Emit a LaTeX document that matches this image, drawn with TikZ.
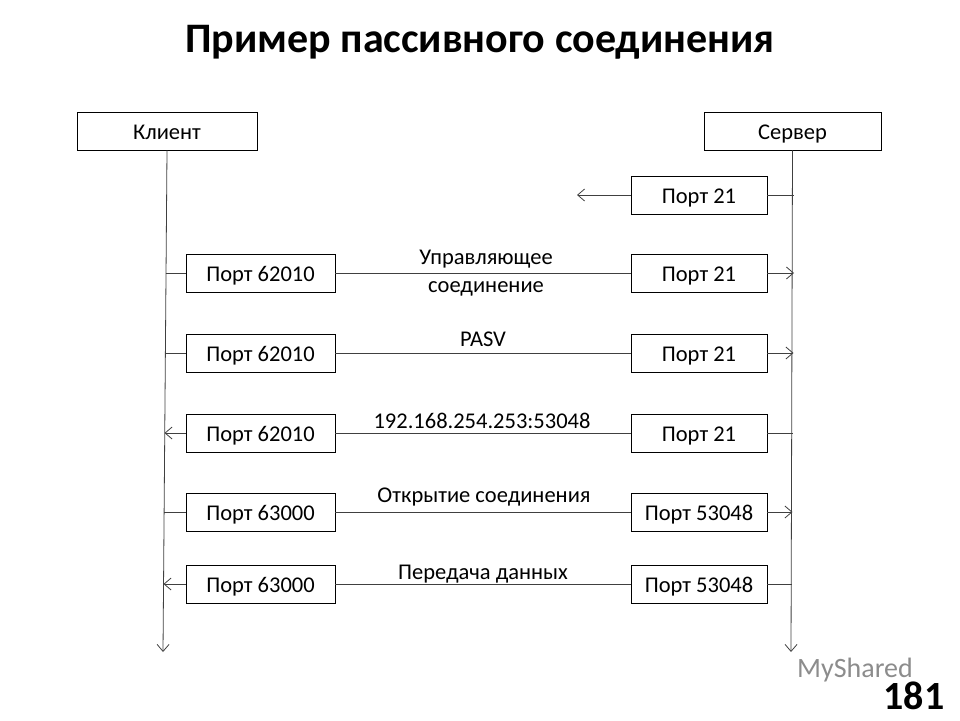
\documentclass[tikz,border=0pt]{standalone}
\usepackage{fontspec}
\setmainfont{Carlito}
\usetikzlibrary{arrows.meta}
\begin{document}
\begin{tikzpicture}[x=1pt,y=-1pt,
 box/.style={draw,line width=0.8pt,minimum height=38pt,inner sep=0pt,text height=19pt,text depth=2pt,font=\fontsize{22.5}{24}\selectfont},
 ln/.style={draw=black!75,line width=0.8pt},
 ar/.style={ln,-{Straight Barb[length=7pt,width=12pt]}},
 lab/.style={font=\fontsize{22.5}{24}\selectfont}]
\useasboundingbox (0,0) rectangle (960,720);
\node[font=\bfseries\fontsize{42}{46}\selectfont] (title) at (480,42) {Пример пассивного соединения};
\node[box,minimum width=180pt] (cl) at (167,131) {Клиент};
\node[box,minimum width=177pt] (sv) at (792.5,131) {Сервер};
\coordinate (clb) at (163,652);
\coordinate (svb) at (791,652);
\draw[ar] (cl.south) -- (clb);
\draw[ar] (sv.south) -- (svb);
\foreach \n/\y/\t in {a/273/62010,b/353/62010,c/433/62010,d/512/63000,e/584/63000}
  \node[box,minimum width=149pt] (L\n) at (260.5,\y) {Порт \t};
\foreach \n/\y/\t in {o/195/21,a/273/21,b/353/21,c/433/21,d/512/53048,e/584/53048}
  \node[box,minimum width=136pt] (R\n) at (699,\y) {Порт \t};
\coordinate (o1) at (577,195);
\coordinate (o2) at (794,195);
\draw[ln] (Ro.east) -- (o2);
\draw[ar] (Ro.west) -- (o1);
\foreach \n/\y/\xl/\xr in {a/273/165.5/794,b/353/165/793.5,c/433/164.5/793,d/512/164/792.5,e/584/163.5/792}{
  \coordinate (cl\n) at (\xl,\y);
  \coordinate (sv\n) at (\xr,\y);
}
\draw[ln] (cla) -- (La.west); \draw[ln] (La.east) -- (Ra.west); \draw[ar] (Ra.east) -- (sva);
\draw[ln] (clb) -- (Lb.west); \draw[ln] (Lb.east) -- (Rb.west); \draw[ar] (Rb.east) -- (svb);
\draw[ar] (Lc.west) -- (clc); \draw[ln] (Lc.east) -- (Rc.west); \draw[ln] (Rc.east) -- (svc);
\draw[ln] (cld) -- (Ld.west); \draw[ln] (Ld.east) -- (Rd.west); \draw[ar] (Rd.east) -- (svd);
\draw[ar] (Le.west) -- (cle); \draw[ln] (Le.east) -- (Re.west); \draw[ln] (Re.east) -- (sve);
\node[lab] (t1) at (486,259) {Управляющее};
\node[lab] (t2) at (486,289) {соединение};
\node[lab] (t3) at (483,339) {PASV};
\node[lab] (t4) at (482,421) {192.168.254.253:53048};
\node[lab] (t5) at (484,497) {Открытие соединения};
\node[lab] (t6) at (483,574) {Передача данных};
\node[font=\fontsize{28}{30}\selectfont,text=black!45] (logo) at (855,670) {MyShared};
\node[font=\bfseries\fontsize{40}{42}\selectfont] (num) at (914,696) {181};
\end{tikzpicture}
\end{document}
